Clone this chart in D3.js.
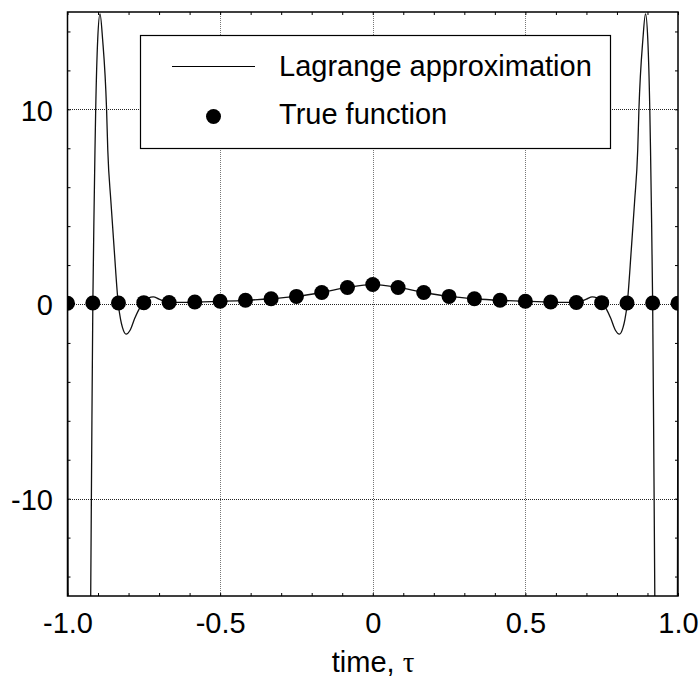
<!DOCTYPE html>
<html>
<head>
<meta charset="utf-8">
<script src="https://cdn.jsdelivr.net/npm/d3@7/dist/d3.min.js"></script>
<style>
body { margin: 0; background: #fff; }
text { font-family: "Liberation Sans", Arial, sans-serif; }
</style>
</head>
<body>
<div id="main_div"></div>
<script>
// sample points of the true function (equally spaced nodes)
var node_t = [-1.0, -0.917, -0.833, -0.75, -0.667, -0.583, -0.5, -0.417, -0.333, -0.25, -0.167, -0.083, 0,
              0.083, 0.167, 0.25, 0.333, 0.417, 0.5, 0.583, 0.667, 0.75, 0.833, 0.917, 1.0];
var node_f = [0.04, 0.05, 0.05, 0.07, 0.08, 0.1, 0.14, 0.19, 0.27, 0.39, 0.59, 0.85, 1.0,
              0.85, 0.59, 0.39, 0.27, 0.19, 0.14, 0.1, 0.08, 0.07, 0.05, 0.05, 0.04];

// lagrange curve (values past +-15 are clipped)
var curve_t = [-1.0, -0.995, -0.985, -0.96, -0.94, -0.93, -0.924, -0.92, -0.917, -0.9125, -0.91, -0.9076, -0.901, -0.8935,
               -0.885, -0.872, -0.868, -0.858, -0.847, -0.8336, -0.826, -0.82, -0.808, -0.795, -0.78, -0.765, -0.75,
               -0.735, -0.719, -0.70, -0.667, -0.583, -0.5, -0.417, -0.333, -0.25, -0.167, -0.083, 0,
               0.083, 0.167, 0.25, 0.333, 0.417, 0.5, 0.583, 0.667, 0.70, 0.719, 0.735, 0.75,
               0.765, 0.78, 0.795, 0.808, 0.82, 0.826, 0.8336, 0.847, 0.858, 0.868, 0.872, 0.885,
               0.8935, 0.901, 0.9076, 0.91, 0.9125, 0.917, 0.92, 0.924, 0.93, 0.94, 0.96, 0.985, 0.995, 1.0];
var curve_v = [0, -40, -110, -180, -80, -28, -15, -6, 0, 5.3, 7.9, 10, 13.6, 14.9,
               13.6, 10, 7.9, 5.3, 2.8, 0, -0.8, -1.2, -1.55, -1.35, -0.75, -0.25, 0.07,
               0.3, 0.37, 0.25, 0.08, 0.1, 0.14, 0.19, 0.27, 0.39, 0.59, 0.85, 1.0,
               0.85, 0.59, 0.39, 0.27, 0.19, 0.14, 0.1, 0.08, 0.25, 0.37, 0.3, 0.07,
               -0.25, -0.75, -1.35, -1.55, -1.2, -0.8, 0, 2.8, 5.3, 7.9, 10, 13.6,
               14.9, 13.6, 10, 7.9, 5.3, 0, -6, -15, -28, -80, -180, -110, -40, 0];

var x_ticks = [-1.0, -0.5, 0, 0.5, 1.0];
var x_labels = ["-1.0", "-0.5", "0", "0.5", "1.0"];
var y_ticks = [-10, 0, 10];
var y_labels = ["-10", "0", "10"];
var x_minor = d3.range(-10, 11).map(function(i) { return i / 10; });
var y_minor = d3.range(-7, 8).map(function(i) { return i * 2; });
var legend_labels = ["Lagrange approximation", "True function"];

var x_scale = d3.scaleLinear().domain([-1, 1]).range([67.5, 678]);
var y_scale = d3.scaleLinear().domain([-15, 15]).range([596, 12]);

var svg = d3.select("#main_div").append("svg").attr("width", 700).attr("height", 679);

svg.append("clipPath").attr("id", "plot_clip").append("rect")
    .attr("x", 67.5).attr("y", 12).attr("width", 610.5).attr("height", 584);

// grid
var grid = svg.append("g").attr("stroke", "#222").attr("stroke-width", 1)
    .attr("stroke-dasharray", "1,1").attr("shape-rendering", "crispEdges");
grid.selectAll("line.gx").data(x_ticks.slice(1, 4)).enter().append("line")
    .attr("x1", function(d) { return Math.round(x_scale(d)) + 0.5; }).attr("x2", function(d) { return Math.round(x_scale(d)) + 0.5; })
    .attr("y1", 12).attr("y2", 596).attr("stroke", "#777");
grid.selectAll("line.gy").data(y_ticks).enter().append("line")
    .attr("y1", function(d) { return Math.round(y_scale(d)) + 0.5; }).attr("y2", function(d) { return Math.round(y_scale(d)) + 0.5; })
    .attr("x1", 67.5).attr("x2", 678);

// minor ticks on all four sides, pointing in
function tickAxis(axis, tr) {
    var g = svg.append("g").attr("transform", tr).call(axis.tickFormat("").tickSizeOuter(0));
    g.select(".domain").remove();
    g.selectAll("line").attr("stroke", "#000");
}
tickAxis(d3.axisBottom(x_scale).tickValues(x_minor).tickSizeInner(-3), "translate(0,596)");
tickAxis(d3.axisTop(x_scale).tickValues(x_minor).tickSizeInner(-3), "translate(0,12)");
tickAxis(d3.axisLeft(y_scale).tickValues(y_minor).tickSizeInner(-3), "translate(67.5,0)");
tickAxis(d3.axisRight(y_scale).tickValues(y_minor).tickSizeInner(-3), "translate(678,0)");

// tick labels
var g_x = svg.append("g").attr("transform", "translate(0,596)")
    .call(d3.axisBottom(x_scale).tickValues(x_ticks).tickSize(0).tickPadding(16.5)
        .tickFormat(function(d, i) { return x_labels[i]; }));
g_x.select(".domain").remove();
g_x.selectAll("text").attr("font-size", 29).attr("font-family", "Liberation Sans, Arial, sans-serif").attr("fill", "#000");

var g_y = svg.append("g").attr("transform", "translate(67.5,0)")
    .call(d3.axisLeft(y_scale).tickValues(y_ticks).tickSize(0).tickPadding(14.5)
        .tickFormat(function(d, i) { return y_labels[i]; }));
g_y.select(".domain").remove();
g_y.selectAll("text").attr("font-size", 29).attr("font-family", "Liberation Sans, Arial, sans-serif").attr("fill", "#000").attr("dy", "0.37em");

// lagrange curve
var line = d3.line()
    .x(function(d) { return x_scale(d[0]); })
    .y(function(d) { return y_scale(d[1]); })
    .curve(d3.curveMonotoneX);
svg.append("path").attr("clip-path", "url(#plot_clip)")
    .datum(d3.zip(curve_t, curve_v))
    .attr("d", line)
    .attr("fill", "none").attr("stroke", "#111").attr("stroke-width", 1.3);

// true function points
svg.append("g").attr("clip-path", "url(#plot_clip)").selectAll("circle").data(d3.zip(node_t, node_f)).enter().append("circle")
    .attr("cx", function(d) { return x_scale(d[0]); })
    .attr("cy", function(d) { return y_scale(d[1]); })
    .attr("r", 7.5)
    .attr("fill", "#000");

// frame
svg.append("rect").attr("x", 67.5).attr("y", 12).attr("width", 610.5).attr("height", 584)
    .attr("fill", "none").attr("stroke", "#000").attr("stroke-width", 1.5);

// legend
var leg = svg.append("g");
leg.append("rect").attr("x", 140.5).attr("y", 35.5).attr("width", 470).attr("height", 113)
    .attr("fill", "#fff").attr("stroke", "#000").attr("stroke-width", 1.2);
leg.append("line").attr("x1", 172).attr("x2", 255).attr("y1", 66.5).attr("y2", 66.5)
    .attr("stroke", "#000").attr("stroke-width", 1.2);
leg.append("circle").attr("cx", 213.5).attr("cy", 116.5).attr("r", 7.5).attr("fill", "#000");
leg.selectAll("text").data(legend_labels).enter().append("text")
    .attr("x", 279)
    .attr("y", function(d, i) { return 75.5 + i * 48; })
    .attr("font-size", 29)
    .text(function(d) { return d; });

// x axis title
var title = svg.append("text").attr("x", 373).attr("y", 672).attr("text-anchor", "middle").attr("font-size", 29);
title.append("tspan").text("time, ");
title.append("tspan").attr("font-family", "Liberation Serif, Times New Roman, serif").text("τ");
</script>
</body>
</html>
